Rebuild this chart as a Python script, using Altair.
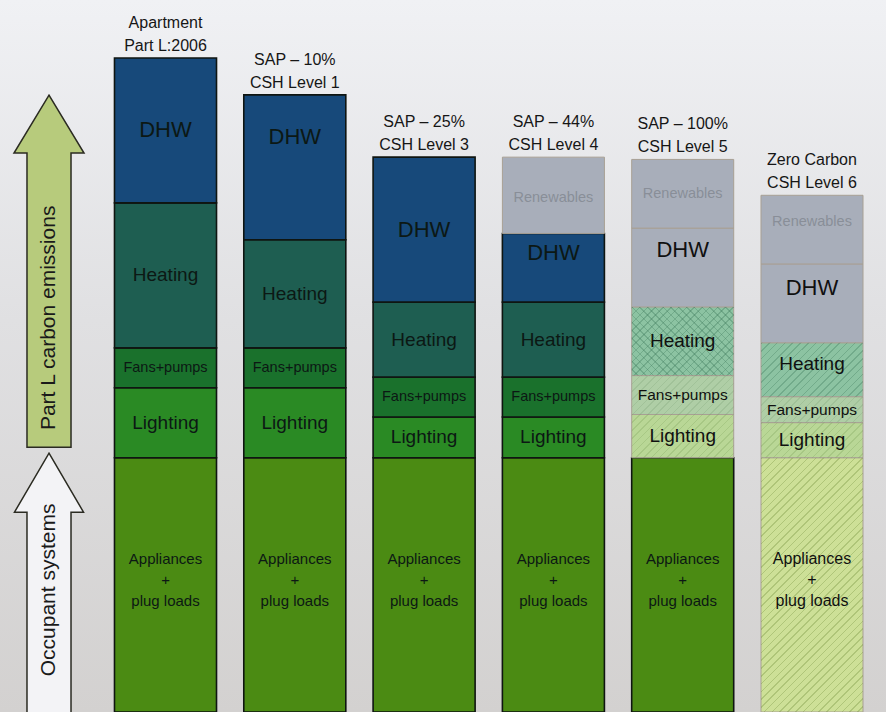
import altair as alt
import pandas as pd

# Six dwelling standards, from Part L 2006 to zero carbon
stages = [
    "Apartment\nPart L:2006",
    "SAP – 10%\nCSH Level 1",
    "SAP – 25%\nCSH Level 3",
    "SAP – 44%\nCSH Level 4",
    "SAP – 100%\nCSH Level 5",
    "Zero Carbon\nCSH Level 6",
]

# Stack order, bottom to top
segments = ["Appliances + plug loads", "Lighting", "Fans+pumps", "Heating", "DHW", "Renewables"]

# Emissions per end use (relative units)
appliances = [100, 100, 100, 100, 100, 100]
lighting = [27.5, 27.5, 16, 16, 17, 13.8]
fans_pumps = [15.7, 15.7, 15.7, 15.7, 15.3, 10.2]
heating = [57, 42.5, 29.5, 29.5, 27, 21.2]
dhw = [57, 57, 57, 27, 31, 31]
renewables = [0, 0, 0, 30, 27, 27]

# End uses met by renewables at each stage
offset_uses = [
    [],
    [],
    [],
    [],
    ["Lighting", "Fans+pumps", "Heating", "DHW"],
    ["Appliances + plug loads", "Lighting", "Fans+pumps", "Heating", "DHW"],
]

# Ranges covered by the two arrows on the left
arrow_spans = {
    "Part L carbon emissions": {"tip": 242.6, "text": 155.0},
    "Occupant systems": {"tip": 101.8, "text": 48.0},
}

# ---- styling ----
FONT = "Liberation Sans, Arial, sans-serif"
W, H = 886, 712
Y_MAX = 280
PX_PER_UNIT = H / Y_MAX
BAND_PX = 102

fills = {
    "Appliances + plug loads": "#4b8b13",
    "Lighting": "#2a8a24",
    "Fans+pumps": "#1a712c",
    "Heating": "#1e5e51",
    "DHW": "#17497a",
    "Renewables": "#a8aeba",
    "Appliances + plug loads (renewable)": "#cde097",
    "Lighting (renewable)": "#b9d796",
    "Fans+pumps (renewable)": "#afcea6",
    "Heating (renewable)": "#8cc3a2",
    "DHW (renewable)": "#a8aeba",
}
hatch_ink = {
    "Appliances + plug loads": "rgba(105,135,50,0.30)",
    "Lighting": "rgba(105,145,70,0.22)",
    "Fans+pumps": "rgba(105,145,100,0.20)",
    "Heating": "rgba(55,115,85,0.30)",
}
label_text = {
    "Appliances + plug loads": "Appliances\n+\nplug loads",
    "Lighting": "Lighting",
    "Fans+pumps": "Fans+pumps",
    "Heating": "Heating",
    "DHW": "DHW",
    "Renewables": "Renewables",
}
label_size = {
    "Appliances + plug loads": 15,
    "Lighting": 19,
    "Fans+pumps": 14.5,
    "Heating": 19,
    "DHW": 22,
    "Renewables": 14.5,
}
# where a label's first line sits inside its block (0 = bottom, 1 = top)
default_anchor = {"Appliances + plug loads": 0.6}
label_anchor = {
    (1, "DHW"): 0.71,
    (3, "DHW"): 0.71,
    (3, "Renewables"): 0.46,
    (4, "DHW"): 0.72,
    (5, "DHW"): 0.70,
    (5, "Heating"): 0.61,
    (5, "Renewables"): 0.61,
}

series = [appliances, lighting, fans_pumps, heating, dhw, renewables]
rows = []
for i, stage in enumerate(stages):
    base = 0.0
    for seg, vals in zip(segments, series):
        v = vals[i]
        if v <= 0:
            continue
        offset = seg in offset_uses[i]
        key = seg + (" (renewable)" if offset else "")
        frac = label_anchor.get((i, seg), default_anchor.get(seg, 0.5))
        if seg == "Renewables":
            tcolor = "#898e98"
        elif offset:
            tcolor = "#101010"
        else:
            tcolor = "#0c1814"
        size = label_size[seg]
        if offset and seg in ("Fans+pumps", "Appliances + plug loads"):
            size += 1
        rows.append(dict(
            idx=i, stage=stage, segment=seg, key=key, value=v,
            y0=base, y1=base + v, ly=base + frac * v,
            pale=offset or seg == "Renewables", offset=offset,
            label=label_text[seg], tcolor=tcolor, fsize=size,
        ))
        base += v
df = pd.DataFrame(rows)

totals = df.groupby("stage", sort=False)["y1"].max().reset_index()

x_enc = alt.X(
    "stage:N", sort=stages, axis=None,
    scale=alt.Scale(range=[100.85, 876.65], paddingInner=0.211, paddingOuter=0.1055),
)
y_scale = alt.Scale(domain=[0, Y_MAX], nice=False, zero=True)

background = alt.Chart(alt.Data(values=[{}])).mark_rect(
    fill={
        "gradient": "linear", "x1": 0, "x2": 0, "y1": 0, "y2": 1,
        "stops": [
            {"offset": 0, "color": "#f0f1f4"},
            {"offset": 0.45, "color": "#e0e0e2"},
            {"offset": 1, "color": "#d3d1d0"},
        ],
    }
).encode(x=alt.value(0), x2=alt.value(W), y=alt.value(0), y2=alt.value(H))

bars = alt.Chart(df).mark_bar().encode(
    x=x_enc,
    y=alt.Y("y0:Q", scale=y_scale, axis=None),
    y2="y1:Q",
    color=alt.Color("key:N", scale=alt.Scale(domain=list(fills), range=list(fills.values())), legend=None),
    stroke=alt.condition("datum.pale", alt.value("#a8a094"), alt.value("#0f1511")),
    strokeWidth=alt.condition("datum.pale", alt.value(1), alt.value(1.6)),
)


def hatch_gradient(w, h, ink, period=5.5, line=1.1, flip=False):
    """Diagonal stripes as a repeating linear gradient over a w x h box."""
    span = w + h
    step = period * 2 ** 0.5 / span
    lw = line * 2 ** 0.5 / span
    stops = []
    t = 0.0
    while t < 1.0:
        a, b, c = t, min(t + lw, 1.0), min(t + step, 1.0)
        stops += [
            {"offset": a, "color": ink},
            {"offset": b, "color": ink},
            {"offset": b, "color": "rgba(255,255,255,0)"},
            {"offset": c, "color": "rgba(255,255,255,0)"},
        ]
        t += step
    k = span / (w * w + h * h)
    if flip:
        return {"gradient": "linear", "x1": 1, "y1": 0, "x2": 1 - k * w, "y2": k * h, "stops": stops}
    return {"gradient": "linear", "x1": 0, "y1": 0, "x2": k * w, "y2": k * h, "stops": stops}


hatch_layers = []
for r in df[df["offset"] & df["segment"].isin(list(hatch_ink))].itertuples():
    w, h = BAND_PX, r.value * PX_PER_UNIT
    crossed = r.idx == 4 and r.segment == "Heating"
    for flip in ([False, True] if crossed else [False]):
        hatch_layers.append(
            alt.Chart(df).transform_filter(
                (alt.datum.idx == r.idx) & (alt.datum.segment == r.segment)
            ).mark_bar(
                fill=hatch_gradient(w, h, hatch_ink[r.segment], flip=flip), strokeWidth=0
            ).encode(
                x=x_enc,
                y=alt.Y("y0:Q", scale=y_scale, axis=None),
                y2="y1:Q",
            )
        )

labels = alt.Chart(df).mark_text(
    font=FONT, baseline="middle", align="center", lineBreak="\n", lineHeight=21
).encode(
    x=x_enc,
    y=alt.Y("ly:Q", scale=y_scale, axis=None),
    text="label:N",
    color=alt.Color("tcolor:N", scale=None),
    size=alt.Size("fsize:Q", scale=None),
)

headers = alt.Chart(totals).mark_text(
    font=FONT, fontSize=16, baseline="alphabetic", align="center",
    lineBreak="\n", lineHeight=23, dy=-30, color="#161616",
).encode(
    x=x_enc,
    y=alt.Y("y1:Q", scale=y_scale, axis=None),
    text="stage:N",
)

# arrow outlines, drawn from the tip downwards (units of 35 px)
green_path = "M0,0 L1,1.657 L0.629,1.657 L0.629,10.06 L-0.629,10.06 L-0.629,1.657 L-1,1.657 Z"
white_path = "M0,0 L0.986,1.686 L0.629,1.686 L0.629,9.5 L-0.629,9.5 L-0.629,1.686 L-0.986,1.686 Z"

arrow_df = pd.DataFrame([
    {"label": k, "tip": v["tip"], "text": v["text"]} for k, v in arrow_spans.items()
])

green_arrow = alt.Chart(arrow_df).transform_filter(
    alt.datum.label == "Part L carbon emissions"
).mark_point(
    shape=green_path, size=4900, filled=True, fill="#b7cb7c",
    stroke="#2b2b22", strokeWidth=1.5, opacity=1,
).encode(x=alt.value(49), y=alt.Y("tip:Q", scale=y_scale, axis=None))

white_arrow = alt.Chart(arrow_df).transform_filter(
    alt.datum.label == "Occupant systems"
).mark_point(
    shape=white_path, size=4900, filled=True, fill="#f3f3f6",
    stroke="#2b2b22", strokeWidth=1.5, opacity=1,
).encode(x=alt.value(49), y=alt.Y("tip:Q", scale=y_scale, axis=None))

arrow_text = alt.Chart(arrow_df).mark_text(
    font=FONT, fontSize=21, angle=270, baseline="middle", align="center", color="#1a1a1a",
).encode(
    x=alt.value(49),
    y=alt.Y("text:Q", scale=y_scale, axis=None),
    text="label:N",
)

chart = alt.layer(
    background, bars, *hatch_layers, labels, headers, green_arrow, white_arrow, arrow_text
).properties(
    width=W, height=H, padding=0, autosize="none", background="#dedede"
).configure_view(stroke=None)

chart.save("out.html", embed_options={"renderer": "svg", "actions": False})
